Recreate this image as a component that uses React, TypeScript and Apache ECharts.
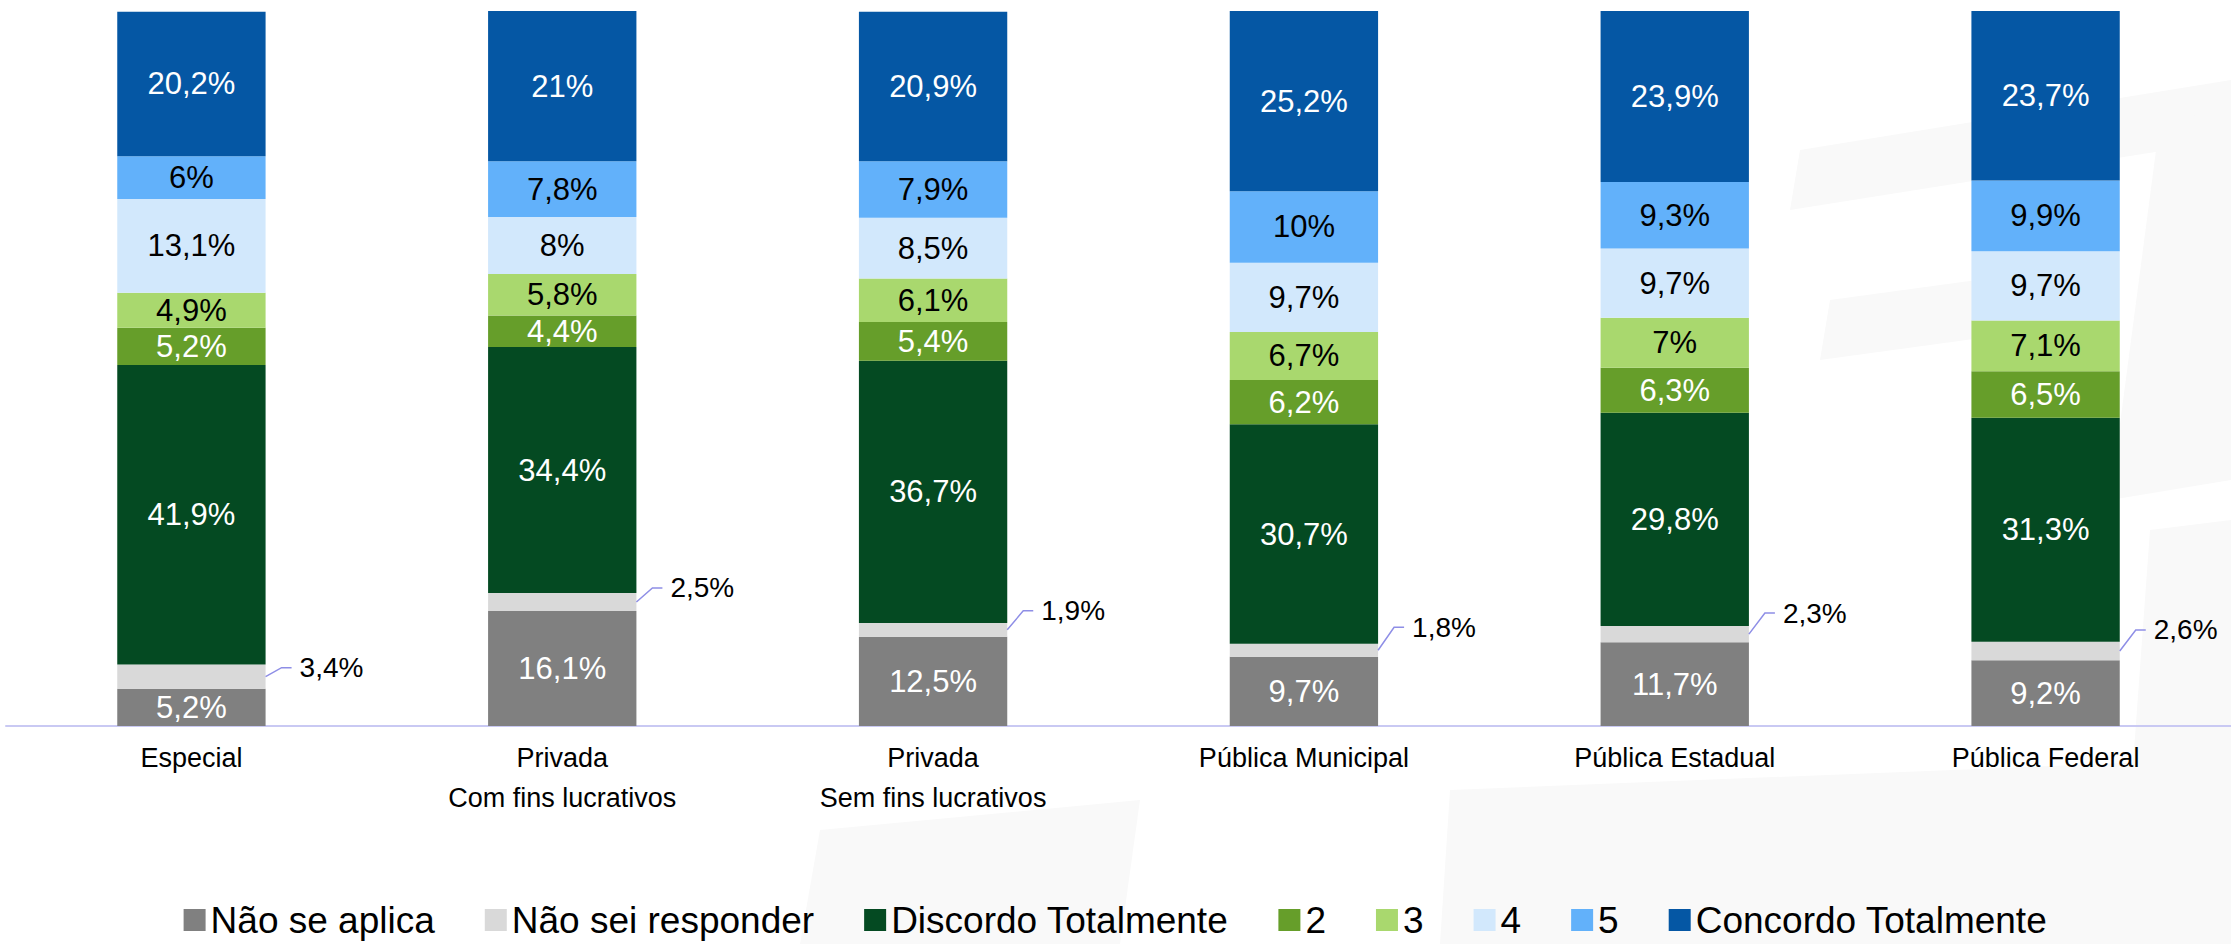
import React, { useEffect, useRef } from "react";
import * as echarts from "echarts";

const categories = [
  "Especial",
  "Privada\nCom fins lucrativos",
  "Privada\nSem fins lucrativos",
  "Pública Municipal",
  "Pública Estadual",
  "Pública Federal",
];

const naoSeAplica = [5.2, 16.1, 12.5, 9.7, 11.7, 9.2];
const naoSei = [3.4, 2.5, 1.9, 1.8, 2.3, 2.6];
const discordo = [41.9, 34.4, 36.7, 30.7, 29.8, 31.3];
const s2 = [5.2, 4.4, 5.4, 6.2, 6.3, 6.5];
const s3 = [4.9, 5.8, 6.1, 6.7, 7.0, 7.1];
const s4 = [13.1, 8.0, 8.5, 9.7, 9.7, 9.7];
const s5 = [6.0, 7.8, 7.9, 10.0, 9.3, 9.9];
const concordo = [20.2, 21.0, 20.9, 25.2, 23.9, 23.7];

const seriesNames = [
  "Não se aplica",
  "Não sei responder",
  "Discordo Totalmente",
  "2",
  "3",
  "4",
  "5",
  "Concordo Totalmente",
];

// styling (not data): colours, label colours, leader rises in px
const colors = ["#808080", "#d9d9d9", "#044a22", "#669e2a", "#a9d86e", "#d2e8fc", "#62b1fa", "#0557a4"];
const labelColors = ["#ffffff", "#000000", "#ffffff", "#ffffff", "#000000", "#000000", "#000000", "#ffffff"];
const leaderRise = [9, 14, 19, 23, 21, 21];

const FONT = "'Liberation Sans', Arial, sans-serif";

const fmt = (v: number) => String(Math.round(v * 10) / 10).replace(".", ",") + "%";

export default function App() {
  const ref = useRef<HTMLDivElement>(null);
  useEffect(() => {
    if (!ref.current) return;
    const chart = echarts.init(ref.current, undefined, { renderer: "svg" });
    const values = [naoSeAplica, naoSei, discordo, s2, s3, s4, s5, concordo];

    const barSeries: any[] = values.map((arr, k) => ({
      name: seriesNames[k],
      type: "bar",
      stack: "total",
      barWidth: "40%",
      data: arr,
      itemStyle: { color: colors[k] },
      label: {
        show: k !== 1,
        position: "inside",
        formatter: (p: any) => fmt(p.value),
        color: labelColors[k],
        fontSize: 31,
        fontFamily: FONT,
      },
      emphasis: { disabled: true },
    }));

    const leaderSeries = {
      type: "custom",
      name: "leader",
      z: 5,
      silent: true,
      data: naoSei.map((v, i) => [i, naoSeAplica[i], v]),
      renderItem: (params: any, api: any) => {
        const i = api.value(0);
        const base = api.value(1);
        const v = api.value(2);
        const mid = api.coord([i, base + v / 2]);
        const bandW = api.size([1, 0])[0];
        const x0 = mid[0] + bandW * 0.2;
        const y0 = mid[1];
        const y1 = y0 - leaderRise[params.dataIndex];
        const x1 = x0 + 16;
        const x2 = x1 + 10;
        return {
          type: "group",
          children: [
            {
              type: "polyline",
              shape: { points: [[x0, y0], [x1, y1], [x2, y1]] },
              style: { stroke: "#8e8ee6", lineWidth: 1.5, fill: null },
            },
            {
              type: "text",
              x: x2 + 8,
              y: y1,
              style: {
                text: fmt(v),
                fill: "#000",
                fontSize: 28,
                fontFamily: FONT,
                verticalAlign: "middle",
                align: "left",
              },
            },
          ],
        };
      },
    };

    // very faint background watermark shapes
    const wm = "#f9f9f9";
    const graphics: any[] = [
      { type: "polygon", shape: { points: [[1800, 150], [2231, 80], [2231, 140], [1790, 210]] } },
      { type: "polygon", shape: { points: [[2160, 120], [2231, 110], [2231, 480], [2110, 500]] } },
      { type: "polygon", shape: { points: [[1830, 300], [2050, 270], [2040, 330], [1820, 360]] } },
      { type: "polygon", shape: { points: [[1450, 790], [2200, 760], [2190, 944], [1440, 944]] } },
      { type: "polygon", shape: { points: [[820, 830], [1140, 800], [1120, 944], [800, 944]] } },
      { type: "polygon", shape: { points: [[2150, 530], [2231, 520], [2231, 944], [2120, 944]] } },
    ].map((g) => ({ ...g, z: -10, silent: true, style: { fill: wm } }));

    chart.setOption({
      animation: false,
      backgroundColor: "#ffffff",
      graphic: graphics,
      grid: { left: 6, top: 11, width: 2232, height: 715, containLabel: false },
      legend: {
        data: seriesNames,
        top: 895,
        left: "center",
        icon: "rect",
        itemWidth: 22,
        itemHeight: 22,
        itemGap: 50,
        textStyle: { fontSize: 37, fontFamily: FONT, color: "#000", lineHeight: 40 },
        selectedMode: false,
      },
      xAxis: {
        type: "category",
        data: categories,
        axisTick: { show: false },
        axisLine: { lineStyle: { color: "#c9c9f3", width: 2 } },
        axisLabel: {
          interval: 0,
          fontSize: 27,
          lineHeight: 40,
          margin: 12,
          color: "#000",
          fontFamily: FONT,
        },
      },
      yAxis: {
        type: "value",
        min: 0,
        max: 100,
        show: false,
        splitLine: { show: false },
      },
      series: [...barSeries, leaderSeries],
    });
    return () => chart.dispose();
  }, []);
  return (
    <div
      ref={ref}
      style={{ position: "fixed", left: 0, top: 0, width: 2231, height: 944 }}
    />
  );
}
